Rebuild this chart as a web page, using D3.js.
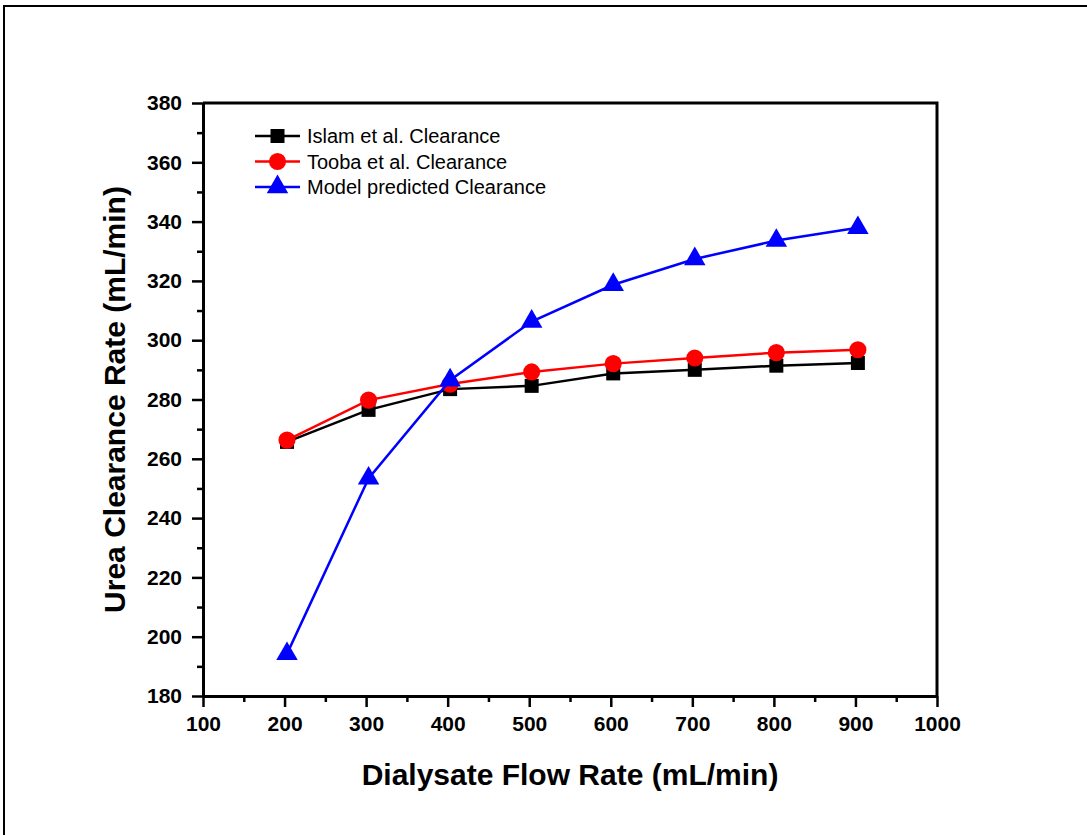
<!DOCTYPE html>
<html>
<head>
<meta charset="utf-8">
<script src="https://cdn.jsdelivr.net/npm/d3@7"></script>
<style>
  body { margin: 0; background: #fff; }
  text { font-family: "Liberation Sans", Arial, sans-serif; }
</style>
</head>
<body>
<div id="chart"></div>
<script>
// data
var flowRate = [203, 303, 403, 503, 603, 703, 803, 903];
var islam = [265.7, 276.5, 283.5, 284.6, 288.8, 290.0, 291.4, 292.3];
var tooba = [266.3, 279.8, 285.2, 289.3, 292.1, 294.0, 295.8, 296.8];
var model = [194.2, 253.4, 286.5, 306.3, 318.7, 327.4, 333.6, 337.9];
var seriesNames = ["Islam et al. Clearance", "Tooba et al. Clearance", "Model predicted Clearance"];
var xTicks = [100, 200, 300, 400, 500, 600, 700, 800, 900, 1000];
var yTicks = [180, 200, 220, 240, 260, 280, 300, 320, 340, 360, 380];

var W = 1087, H = 835;
var margin = { top: 103, right: 150, bottom: 139, left: 203 };
var width = W - margin.left - margin.right;
var height = H - margin.top - margin.bottom;

var svg = d3.select("#chart").append("svg")
  .attr("width", W)
  .attr("height", H);

// outer frame (only top and left edges show)
svg.append("path")
  .attr("d", "M4," + H + "V6H" + W)
  .attr("fill", "none")
  .attr("stroke", "#000")
  .attr("stroke-width", 2);

var g = svg.append("g")
  .attr("transform", "translate(" + margin.left + "," + margin.top + ")");

var x = d3.scaleLinear().domain([100, 1000]).range([0, width]);
var y = d3.scaleLinear().domain([180, 380]).range([height, 0]);

// minor ticks
g.append("g")
  .attr("transform", "translate(0," + height + ")")
  .call(d3.axisBottom(x).tickValues(d3.range(150, 1000, 100)).tickSize(6).tickFormat(""))
  .call(a => a.select(".domain").remove())
  .selectAll("line").attr("stroke-width", 2.5);
g.append("g")
  .call(d3.axisLeft(y).tickValues(d3.range(190, 380, 20)).tickSize(6).tickFormat(""))
  .call(a => a.select(".domain").remove())
  .selectAll("line").attr("stroke-width", 2.5);

// major ticks + labels
var xAxis = g.append("g")
  .attr("transform", "translate(0," + height + ")")
  .call(d3.axisBottom(x).tickValues(xTicks).tickFormat(d3.format("d")).tickSize(11).tickPadding(9).tickSizeOuter(0));
var yAxis = g.append("g")
  .call(d3.axisLeft(y).tickValues(yTicks).tickFormat(d3.format("d")).tickSize(11).tickPadding(10).tickSizeOuter(0));

[xAxis, yAxis].forEach(function(a) {
  a.attr("font-size", null).attr("font-family", null);
  a.select(".domain").attr("stroke-width", 3);
  a.selectAll(".tick line").attr("stroke-width", 2.5);
  a.selectAll(".tick text")
    .style("font-size", "21px")
    .style("font-weight", "bold")
    .attr("fill", "#000");
});

// top and right frame lines
g.append("path")
  .attr("d", "M0,0H" + width + "V" + height)
  .attr("fill", "none")
  .attr("stroke", "#000")
  .attr("stroke-width", 3);

// axis titles
svg.append("text")
  .attr("x", margin.left + width / 2)
  .attr("y", 785)
  .attr("text-anchor", "middle")
  .style("font-size", "30px")
  .style("font-weight", "bold")
  .text("Dialysate Flow Rate (mL/min)");

svg.append("text")
  .attr("transform", "translate(125," + (margin.top + height / 2) + ") rotate(-90)")
  .attr("text-anchor", "middle")
  .style("font-size", "30px")
  .style("font-weight", "bold")
  .text("Urea Clearance Rate (mL/min)");

var series = [
  { name: seriesNames[0], values: islam, color: "#000000", shape: d3.symbolSquare, size: 196 },
  { name: seriesNames[1], values: tooba, color: "#ff0000", shape: d3.symbolCircle, size: 230 },
  { name: seriesNames[2], values: model, color: "#0000ff", shape: d3.symbolTriangle, size: 200 }
];

var line = d3.line()
  .x(function(d) { return x(d[0]); })
  .y(function(d) { return y(d[1]); });

series.forEach(function(s) {
  var pts = flowRate.map(function(f, i) { return [f, s.values[i]]; });
  g.append("path")
    .datum(pts)
    .attr("d", line)
    .attr("fill", "none")
    .attr("stroke", s.color)
    .attr("stroke-width", 2.5);
  g.selectAll(null)
    .data(pts)
    .enter().append("path")
    .attr("transform", function(d) { return "translate(" + x(d[0]) + "," + y(d[1]) + ")"; })
    .attr("d", d3.symbol().type(s.shape).size(s.size))
    .attr("fill", s.color);
});

// legend
var legend = g.append("g").attr("transform", "translate(52,33)");
series.forEach(function(s, i) {
  var row = legend.append("g").attr("transform", "translate(0," + (i * 25.5) + ")");
  row.append("line")
    .attr("x1", 0).attr("x2", 45)
    .attr("stroke", s.color).attr("stroke-width", 2.5);
  row.append("path")
    .attr("transform", "translate(22.5,0)")
    .attr("d", d3.symbol().type(s.shape).size(s.size))
    .attr("fill", s.color);
  row.append("text")
    .attr("x", 52).attr("y", 7)
    .style("font-size", "20px")
    .text(s.name);
});
</script>
</body>
</html>
